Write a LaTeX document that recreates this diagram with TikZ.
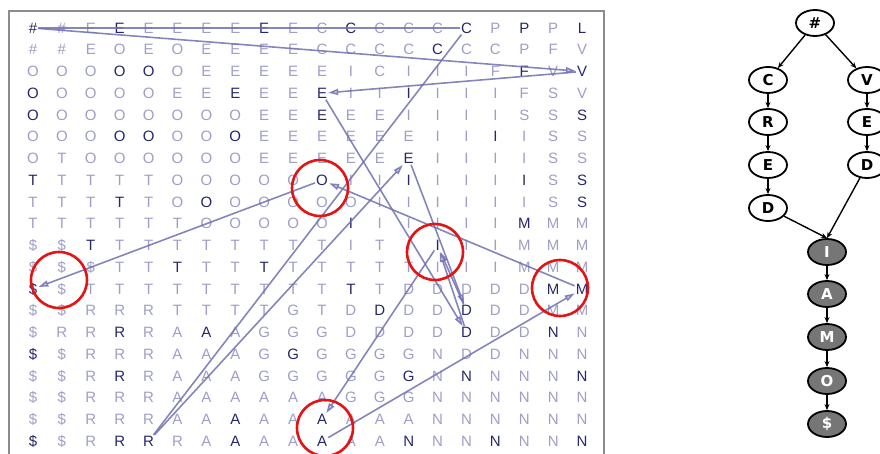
\documentclass[tikz,border=0pt]{standalone}
\usepackage{fontspec}
\setmainfont{Liberation Sans}
\newfontfamily\nodefont{DejaVu Sans}
\usetikzlibrary{arrows.meta,shapes.geometric}
\definecolor{gd}{RGB}{38,38,108}
\definecolor{gl}{RGB}{158,158,200}
\definecolor{ln}{RGB}{112,112,178}
\definecolor{af}{RGB}{220,220,240}
\definecolor{rc}{RGB}{226,20,20}
\definecolor{fr}{RGB}{140,140,140}
\definecolor{gn}{RGB}{118,118,118}
\tikzset{
  gch/.style={font=\fontsize{15}{15}\selectfont, inner sep=1pt},
  tr/.style={draw=ln, line width=1.6pt, draw opacity=0.85},
  tra/.style={tr, -{Triangle[length=10pt,width=6pt,fill=af]}},
  ring/.style={draw=rc, line width=2.6pt},
  gnode/.style={ellipse, draw=black, line width=1.8pt, minimum width=38pt, minimum height=26pt, inner sep=0pt, font=\nodefont\bfseries\fontsize{15}{15}\selectfont},
  gfill/.style={gnode, fill=gn, text=white},
  ge/.style={draw=black, line width=1.4pt, -{Stealth[length=6pt,width=5pt]}}
}
% #1 row number, #2 letters, #3 dark column indices
\newcommand\gridrow[3]{%
  \foreach \k in {#3}{\expandafter\gdef\csname dk#1-\k\endcsname{}}%
  \foreach \ch [count=\c from 0] in {#2}{%
    \ifcsname dk#1-\c\endcsname\def\cl{gd}\else\def\cl{gl}\fi
    \node[gch,text=\cl] (g#1-\c) at ({33+28.9*\c},{28+21.75*(#1-1)}) {\ch};
  }%
}
\begin{document}
\begin{tikzpicture}[x=1pt,y=-1pt]
\useasboundingbox (0,0) rectangle (880,454);
\clip (0,0) rectangle (880,454);
% frame
\draw[draw=fr, line width=1.6pt] (9,470) -- (9,11) -- (604,11) -- (604,470);
% grid
\gridrow{1}{\#,\#,E,E,E,E,E,E,E,E,C,C,C,C,C,C,P,P,P,L}{0,3,8,11,15,17,19}
\gridrow{2}{\#,\#,E,O,E,O,E,E,E,E,C,C,C,C,C,C,C,P,F,V}{14}
\gridrow{3}{O,O,O,O,O,O,E,E,E,E,E,I,C,I,I,I,F,F,V,V}{3,4,17,19}
\gridrow{4}{O,O,O,O,O,E,E,E,E,E,E,I,I,I,I,I,I,F,S,V}{0,7,10,13}
\gridrow{5}{O,O,O,O,O,O,O,O,E,E,E,E,E,I,I,I,I,S,S,S}{0,10,19}
\gridrow{6}{O,O,O,O,O,O,O,O,E,E,E,E,E,E,I,I,I,I,S,S}{3,4,7,16}
\gridrow{7}{O,T,O,O,O,O,O,O,E,E,E,E,E,E,I,I,I,I,S,S}{13}
\gridrow{8}{T,T,T,T,T,O,O,O,O,O,O,I,I,I,I,I,I,I,S,S}{0,10,13,17,19}
\gridrow{9}{T,T,T,T,T,O,O,O,O,O,O,O,I,I,I,I,I,I,S,S}{3,6,19}
\gridrow{10}{T,T,T,T,T,T,O,O,O,O,O,I,I,I,I,I,I,M,M,M}{11,17}
\gridrow{11}{\$,\$,T,T,T,T,T,T,T,T,T,I,T,I,I,I,I,M,M,M}{2,14}
\gridrow{12}{\$,\$,\$,T,T,T,T,T,T,T,T,T,T,T,I,I,I,M,M,M}{5,8}
\gridrow{13}{\$,\$,T,T,T,T,T,T,T,T,T,T,T,D,D,D,D,D,M,M}{0,11,18,19}
\gridrow{14}{\$,\$,R,R,R,T,T,T,T,G,T,D,D,D,D,D,D,D,M,M}{12,15}
\gridrow{15}{\$,R,R,R,R,A,A,A,G,G,G,D,D,D,D,D,D,D,N,N}{3,6,15,18}
\gridrow{16}{\$,\$,R,R,R,A,A,A,G,G,G,G,G,G,N,D,D,N,N,N}{0,9}
\gridrow{17}{\$,\$,R,R,R,A,A,A,G,G,G,G,G,G,N,N,N,N,N,N}{3,13,15,19}
\gridrow{18}{\$,\$,R,R,R,A,A,A,A,A,A,G,G,G,N,N,N,N,N,N}{99}
\gridrow{19}{\$,\$,R,R,R,A,A,A,A,A,A,A,A,A,N,N,N,N,N,N}{7,10}
\gridrow{20}{\$,\$,R,R,R,R,A,A,A,A,A,A,A,N,N,N,N,N,N,N}{0,3,4,7,10,13,16,19}
% traceback connectors
\draw[tr] (g1-0) -- (g1-15);
\draw[tra] (g1-0) -- (g3-19);
\draw[tra] (g3-19) -- (g4-10);
\draw[tr] (g1-15) -- (g20-4);
\draw[tra] (g20-4) -- (g7-13);
\draw[tra] (g4-10) -- (g15-15);
\draw[tra] (g7-13) -- (g14-15);
\draw[tra] (g14-15) -- (g11-14);
\draw[tra] (g15-15) -- (g11-14);
\draw[tra] (g11-14) -- (g19-10);
\draw[tra] (g20-10) -- (g13-19);
\draw[tra] (g13-19) -- (g8-10);
\draw[tra] (g8-10) -- (g13-0);
% red rings
\draw[ring] (320,188) circle (28pt);
\draw[ring] (59,280) circle (28pt);
\draw[ring] (435,252) circle (28pt);
\draw[ring] (560,288) circle (28pt);
\draw[ring] (325,428) circle (28pt);
% graph
\node[gnode] (hh) at (815,23) {\#};
\node[gnode] (c1) at (768,80) {C};
\node[gnode] (r1) at (768,122) {R};
\node[gnode] (e1) at (768,165) {E};
\node[gnode] (d1) at (768,208) {D};
\node[gnode] (v2) at (867,80) {V};
\node[gnode] (e2) at (867,122) {E};
\node[gnode] (d2) at (867,165) {D};
\node[gfill] (ni) at (827,252) {I};
\node[gfill] (na) at (827,294) {A};
\node[gfill] (nm) at (827,337) {M};
\node[gfill] (no) at (827,381) {O};
\node[gfill] (nd) at (827,424) {\$};
\draw[ge] (hh) -- (c1);
\draw[ge] (hh) -- (v2);
\draw[ge] (c1) -- (r1);
\draw[ge] (r1) -- (e1);
\draw[ge] (e1) -- (d1);
\draw[ge] (v2) -- (e2);
\draw[ge] (e2) -- (d2);
\draw[ge] (d1) -- (ni.north);
\draw[ge] (d2) -- (ni.north);
\draw[ge] (ni) -- (na);
\draw[ge] (na) -- (nm);
\draw[ge] (nm) -- (no);
\draw[ge] (no) -- (nd);
\end{tikzpicture}
\end{document}
